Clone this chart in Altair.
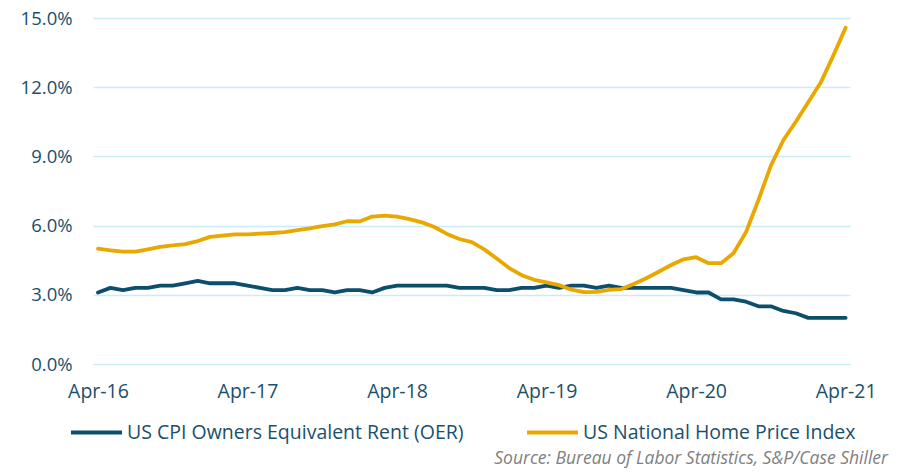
import altair as alt
import pandas as pd

# Monthly, Apr-2016 .. Apr-2021 (61 months)
months = [
    "2016-04", "2016-05", "2016-06", "2016-07", "2016-08", "2016-09", "2016-10", "2016-11", "2016-12",
    "2017-01", "2017-02", "2017-03", "2017-04", "2017-05", "2017-06", "2017-07", "2017-08", "2017-09",
    "2017-10", "2017-11", "2017-12", "2018-01", "2018-02", "2018-03", "2018-04", "2018-05", "2018-06",
    "2018-07", "2018-08", "2018-09", "2018-10", "2018-11", "2018-12", "2019-01", "2019-02", "2019-03",
    "2019-04", "2019-05", "2019-06", "2019-07", "2019-08", "2019-09", "2019-10", "2019-11", "2019-12",
    "2020-01", "2020-02", "2020-03", "2020-04", "2020-05", "2020-06", "2020-07", "2020-08", "2020-09",
    "2020-10", "2020-11", "2020-12", "2021-01", "2021-02", "2021-03", "2021-04",
]

oer = [
    3.1, 3.3, 3.2, 3.3, 3.3, 3.4, 3.4, 3.5, 3.6, 3.5, 3.5, 3.5,
    3.4, 3.3, 3.2, 3.2, 3.3, 3.2, 3.2, 3.1, 3.2, 3.2, 3.1, 3.3,
    3.4, 3.4, 3.4, 3.4, 3.4, 3.3, 3.3, 3.3, 3.2, 3.2, 3.3, 3.3,
    3.4, 3.3, 3.4, 3.4, 3.3, 3.4, 3.3, 3.3, 3.3, 3.3, 3.3, 3.2,
    3.1, 3.1, 2.8, 2.8, 2.7, 2.5, 2.5, 2.3, 2.2, 2.0, 2.0, 2.0,
    2.0,
]

hpi = [
    5.0, 4.93, 4.87, 4.87, 4.97, 5.08, 5.14, 5.2, 5.33, 5.51, 5.57, 5.62,
    5.62, 5.65, 5.68, 5.72, 5.8, 5.88, 5.98, 6.05, 6.19, 6.18, 6.39, 6.43,
    6.39, 6.28, 6.14, 5.94, 5.64, 5.42, 5.28, 4.97, 4.57, 4.16, 3.85, 3.65,
    3.54, 3.42, 3.22, 3.12, 3.13, 3.21, 3.25, 3.47, 3.72, 4.0, 4.29, 4.54,
    4.63, 4.37, 4.37, 4.8, 5.71, 7.1, 8.6, 9.7, 10.5, 11.35, 12.2, 13.36,
    14.58,
]

series_names = ["US CPI Owners Equivalent Rent (OER)", "US National Home Price Index"]
series_colors = ["#0D4E6C", "#E9A800"]
tick_labels = ["Apr-16", "Apr-17", "Apr-18", "Apr-19", "Apr-20", "Apr-21"]
y_ticks = [0, 3, 6, 9, 12, 15]
source_text = "Source: Bureau of Labor Statistics, S&P/Case Shiller"

rows = []
for i, m in enumerate(months):
    rows.append({"idx": i, "month": m, "series": series_names[0], "value": oer[i] / 100})
    rows.append({"idx": i, "month": m, "series": series_names[1], "value": hpi[i] / 100})
df = pd.DataFrame(rows)

label_list = "[" + ",".join("'" + t + "'" for t in tick_labels) + "]"

FONT = "Open Sans"
TEXT_COLOR = "#1B4F6C"

lines = alt.Chart(df).mark_line(strokeWidth=3.8, strokeCap="round", strokeJoin="round").encode(
    x=alt.X(
        "idx:Q",
        scale=alt.Scale(domain=[-0.4, 60.35], nice=False, zero=False),
        axis=alt.Axis(
            values=[0, 12, 24, 36, 48, 60],
            labelExpr=label_list + "[round(datum.value / 12)]",
            title=None,
            grid=False,
            ticks=False,
            domain=False,
            labelPadding=18,
            labelFontSize=19.5,
            labelFont=FONT,
            labelColor=TEXT_COLOR,
        ),
    ),
    y=alt.Y(
        "value:Q",
        scale=alt.Scale(domain=[0, 0.15], nice=False),
        axis=alt.Axis(
            values=[v / 100 for v in y_ticks],
            format=".1%",
            title=None,
            ticks=False,
            domain=False,
            grid=True,
            gridColor="#C9ECFA",
            gridWidth=1.5,
            labelPadding=21,
            labelFontSize=18.5,
            labelFont=FONT,
            labelColor=TEXT_COLOR,
        ),
    ),
    color=alt.Color(
        "series:N",
        sort=series_names,
        scale=alt.Scale(domain=series_names, range=series_colors),
        legend=alt.Legend(
            title=None,
            orient="none",
            direction="horizontal",
            legendX=-24,
            legendY=387,
            symbolType="stroke",
            symbolSize=2600,
            symbolStrokeWidth=4,
            labelFontSize=19.5,
            labelFont=FONT,
            labelColor=TEXT_COLOR,
            labelOffset=3,
            columnPadding=55,
            labelLimit=600,
        ),
    ),
    order="idx:Q",
)

source = alt.Chart(pd.DataFrame({"t": [source_text]})).mark_text(
    align="right",
    baseline="middle",
    font=FONT,
    fontSize=17.5,
    fontStyle="italic",
    color="#808080",
).encode(
    text="t:N",
    x=alt.value(795),
    y=alt.value(441),
)

chart = alt.layer(lines, source).properties(
    width=757,
    height=346,
    autosize=alt.AutoSizeParams(type="none"),
    padding={"left": 85, "top": 10, "right": 41, "bottom": 104},
).configure_view(stroke=None)

chart.save("out.html", embed_options={"renderer": "svg", "actions": False})
